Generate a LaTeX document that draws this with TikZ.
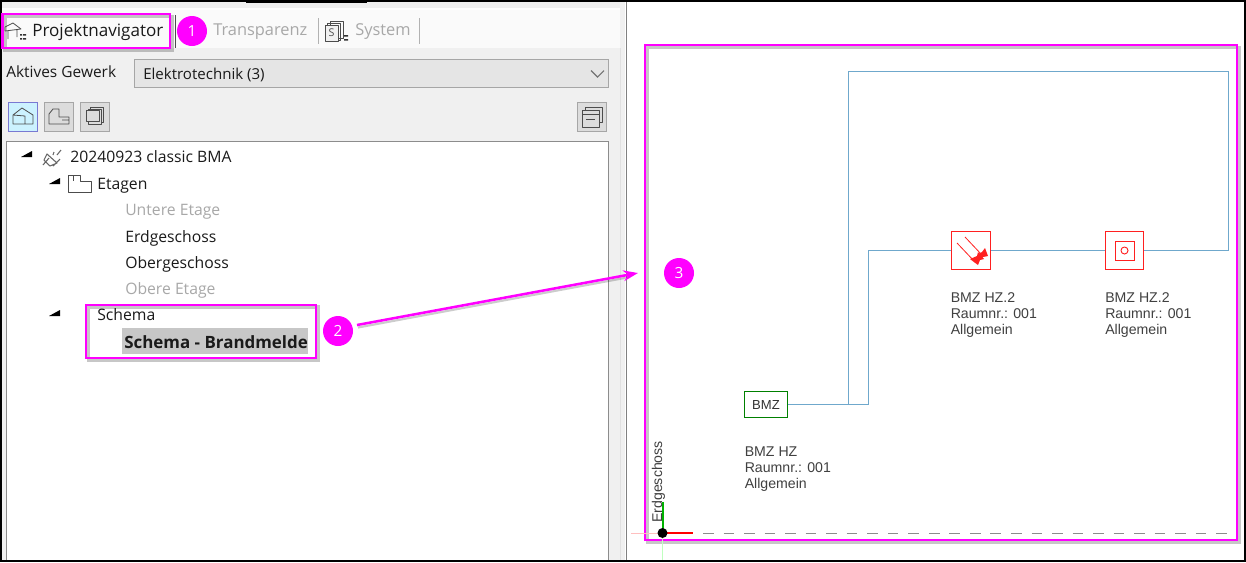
\documentclass[tikz,border=0pt]{standalone}
\usepackage{fontspec}
\setmainfont{Open Sans}
\newfontfamily\arialf{Liberation Sans}
\usetikzlibrary{arrows.meta,calc}
\definecolor{mag}{HTML}{FF00FF}
\definecolor{wire}{HTML}{6FA8CC}
\definecolor{redd}{HTML}{FF2020}
\definecolor{panel}{HTML}{F0F0F0}
\definecolor{grayt}{HTML}{A8A8A8}
\definecolor{txt}{HTML}{1A1A1A}
\definecolor{btn}{HTML}{DCDCDC}
\tikzset{
 px/.style={x=0.75pt,y=-0.75pt},
 markbox/.style={draw=mag,line width=1.9pt,rectangle,inner sep=0pt,preaction={draw=black,draw opacity=.22,line width=2.6pt,transform canvas={shift={(1.7pt,-1.7pt)}}}},
 badge/.style={circle,fill=mag,text=white,minimum size=22.5pt,inner sep=0pt,font=\fontsize{11.5}{12}\selectfont},
 uitext/.style={anchor=west,inner sep=0pt,text=txt,font=\fontsize{12.8}{14}\selectfont},
 tabdim/.style={anchor=west,inner sep=0pt,text=grayt,font=\fontsize{12.3}{14}\selectfont},
 treetext/.style={anchor=west,inner sep=0pt,text=txt,font=\fontsize{11.8}{14}\selectfont},
 treedim/.style={treetext,text=grayt},
 tri/.style={fill=black},
 tool/.style={draw=gray!70,fill=btn,line width=.7pt,minimum size=22pt,inner sep=0pt},
 icon/.style={draw=black!70,line width=.6pt,line join=round},
 wireline/.style={draw=wire,line width=.75pt},
 redbox/.style={draw=redd,line width=.9pt,fill=white,minimum size=29pt,inner sep=0pt},
 label/.style={anchor=north west,inner sep=0pt,align=left,text=black!75,font=\arialf\fontsize{10.6}{12}\selectfont},
}
\begin{document}
\begin{tikzpicture}[px]
\useasboundingbox (0,0) rectangle (1246,562);
% backgrounds
\fill[white] (0,0) rectangle (1246,562);
\fill[panel] (0,0) rectangle (625,562);
\fill[white] (2,8) rectangle (620,10);
\fill[black!2] (2,10) rectangle (620,48);
\draw[gray,line width=1.2pt] (626.5,0) -- (626.5,562);
\fill[black!12] (620,48) rectangle (621,562);
% outer frame
\fill[black] (0,0) rectangle (1246,2);
\fill[black] (0,0) rectangle (2,562);
\fill[black] (1244,0) rectangle (1246,562);
\fill[black] (246,0) rectangle (367,2.6);
% tabs
\node[uitext] (tabp) at (32,32) {Projektnavigator};
\node[tabdim] (tabt) at (213,32) {Transparenz};
\node[tabdim] (tabs) at (355,32) {System};
\node[markbox,minimum width=125.5pt,minimum height=25.5pt] (m1) at (86.3,31) {};
\draw[black!70,line width=.8pt] (175.5,15) -- (175.5,48);
\draw[black!30,line width=.7pt] (318.5,18) -- (318.5,44);
\draw[black!30,line width=.7pt] (419.5,18) -- (419.5,44);
\node[badge] (b1) at (192,31) {1};
% tab icons
\draw[icon] (5,31) -- (5,27) -- (13,23) -- (21,29) -- (5,31) (8,31) -- (8,39) (17,30) -- (17,37);
\fill[black!80] (20,34) rectangle (22,35.5) (20,38) rectangle (22,39.5) (23,34) rectangle (26,35.5) (23,38) rectangle (26,39.5);
\draw[icon] (330,21) rectangle (343,38);
\draw[icon] (327,23) rectangle (340,40);
\draw[icon,fill=panel] (325,25) rectangle (338,41);
\node[inner sep=0pt,text=black!70,font=\fontsize{8}{9}\selectfont] (sysS) at (331.5,33) {S};
\fill[black!80] (344,35) rectangle (348,36.5) (344,39) rectangle (348,40.5);
% dropdown row
\node[uitext,font=\fontsize{11.6}{12}\selectfont] (ag) at (6,72) {Aktives Gewerk};
\node[draw=black!35,fill=black!10,line width=.7pt,minimum width=355.5pt,minimum height=20.5pt,inner sep=0pt] (dd) at (371,73.5) {};
\node[uitext,font=\fontsize{11.3}{12}\selectfont] (ddt) at (143,74.5) {Elektrotechnik (3)};
\draw[black!55,line width=.8pt] (591,70.5) -- (597.5,77) -- (604,70.5);
% toolbar buttons
\node[tool,fill=blue!25!cyan!20,draw=blue!50!gray!70] (t1) at (23,117) {};
\node[tool] (t2) at (59,117) {};
\node[tool] (t3) at (95,117) {};
\node[tool] (t4) at (592,117) {};
\draw[icon] (13,124) -- (13,115) -- (22,108) -- (33,115) -- (33,124) -- cycle (13,115) -- (25,116) -- (25,124);
\draw[icon] (49,124) -- (49,114) -- (53,109) -- (59,109) -- (59,117) -- (69,117) -- (69,124) -- cycle (62,120) -- (69,120);
\draw[icon] (90,107) rectangle (103,122);
\draw[icon,fill=btn] (88,109) rectangle (101,124);
\draw[icon,fill=btn] (86,110) rectangle (99,121);
\draw[icon] (585,107) rectangle (602,122);
\draw[icon,fill=btn] (582,110) rectangle (599,127);
\draw[icon] (582,114) -- (599,114) (586,119) -- (595,119);
% tree box
\fill[white] (6,141) rectangle (608,562);
\draw[black!45,line width=.7pt] (6,560) -- (6,141) -- (608,141) -- (608,560);
\fill[tri] (21,157) -- (32,157) -- (32,151) -- cycle;
\fill[tri] (49,184) -- (60,184) -- (60,178) -- cycle;
\fill[tri] (49,316) -- (60,316) -- (60,310) -- cycle;
\draw[icon,black!60,line width=.8pt] (43,165) -- (49,158) (53,166) -- (60,159) (47,154) -- (57,163) -- (50,166) -- (44,160) -- cycle (54,152) -- (53,155) (61,150) -- (57,155);
\draw[icon] (68,192) -- (68,175) -- (80,175) -- (80,181) -- (91,181) -- (91,192) -- cycle (73,175) -- (73,181);
\node[treetext] (n0) at (70,156.5) {20240923 classic BMA};
\node[treetext] (n1) at (97,185.5) {Etagen};
\node[treedim] (n2) at (125,211.5) {Untere Etage};
\node[treetext] (n3) at (125,238) {Erdgeschoss};
\node[treetext] (n4) at (125,264.5) {Obergeschoss};
\node[treedim] (n5) at (125,290.5) {Obere Etage};
\node[treetext] (n6) at (97,315) {Schema};
\fill[black!22] (122,328) rectangle (308,354);
\node[treetext,font=\fontsize{12.7}{14}\bfseries\selectfont] (n7) at (124,342) {Schema - Brandmelde};
\node[markbox,minimum width=172.5pt,minimum height=40pt] (m2) at (201,331.5) {};
\node[badge] (b2) at (338,331) {2};
% right side
\node[markbox,minimum width=444pt,minimum height=371pt] (m3) at (941,292.5) {};
\node[badge] (b3) at (679,273) {3};
\coordinate (arr) at (638,273);
\coordinate (arrs) at (357,325);
\draw[black,opacity=.2,line width=1.6pt] ($(arrs)+(1,2.5)$) -- ($(arr)+(-8,4)$);
\draw[mag,line width=1.9pt,-{Stealth[length=11pt,width=8pt]}] (arrs) -- (arr);
% schematic
\node[draw=green!50!black,line width=.9pt,fill=white,minimum width=32pt,minimum height=19pt,inner sep=0pt,font=\arialf\fontsize{9.8}{12}\selectfont,text=black!80] (bmz) at (766,404.5) {BMZ};
\node[redbox] (s1) at (971,250.5) {};
\node[redbox] (s2) at (1124.5,250.5) {};
\coordinate (j) at (848,404.5);
\coordinate (c1) at (868,404.5);
\coordinate (c2) at (868,250.5);
\coordinate (c3) at (1228,250.5);
\coordinate (c4) at (1228,71);
\coordinate (c5) at (848,71);
\draw[wireline] (bmz.east) -- (c1) -- (c2) -- (s1.west);
\draw[wireline] (s1.east) -- (s2.west);
\draw[wireline] (s2.east) -- (c3) -- (c4) -- (c5) -- (j);
% detector symbols
\draw[redd,line width=.6pt] (957,243) -- (975,262) (965,237) -- (982,255);
\fill[redd] (970,259) -- (977,256) -- (978,252) -- (984,259) -- (980,260) -- (978,265) -- cycle;
\fill[redd] (978,254) -- (982,252) -- (985,248) -- (988,256) -- (983,257) -- (981,259) -- cycle;
\draw[redd,line width=.7pt] (1115,241) rectangle (1134,260);
\draw[redd,line width=.7pt] (1124.5,250.5) circle (3.5);
\node[label] (l1) at (950.5,292) {BMZ HZ.2\\Raumnr.: 001\\Allgemein};
\node[label] (l2) at (1105,292) {BMZ HZ.2\\Raumnr.: 001\\Allgemein};
\node[label] (l3) at (744.5,446) {BMZ HZ\\Raumnr.: 001\\Allgemein};
% axes
\draw[green!25,line width=.6pt] (662.5,533) -- (662.5,560);
\draw[red!25,line width=.6pt] (631,533) -- (662,533);
\draw[green!70!black,line width=.8pt] (663,533) -- (663,502);
\draw[red,line width=.8pt] (663,533) -- (693,533);
\draw[black!45,line width=.7pt,dash pattern=on 8pt off 7.4pt] (703,533) -- (1228,533);
\node[rotate=90,anchor=west,inner sep=0pt,text=black!75,font=\arialf\fontsize{10.6}{12}\selectfont] (eg) at (658.5,523) {Erdgeschoss};
\fill[black] (662.5,533) circle (5);
% bottom frame
\fill[black] (0,560) rectangle (1246,562);
\end{tikzpicture}
\end{document}
